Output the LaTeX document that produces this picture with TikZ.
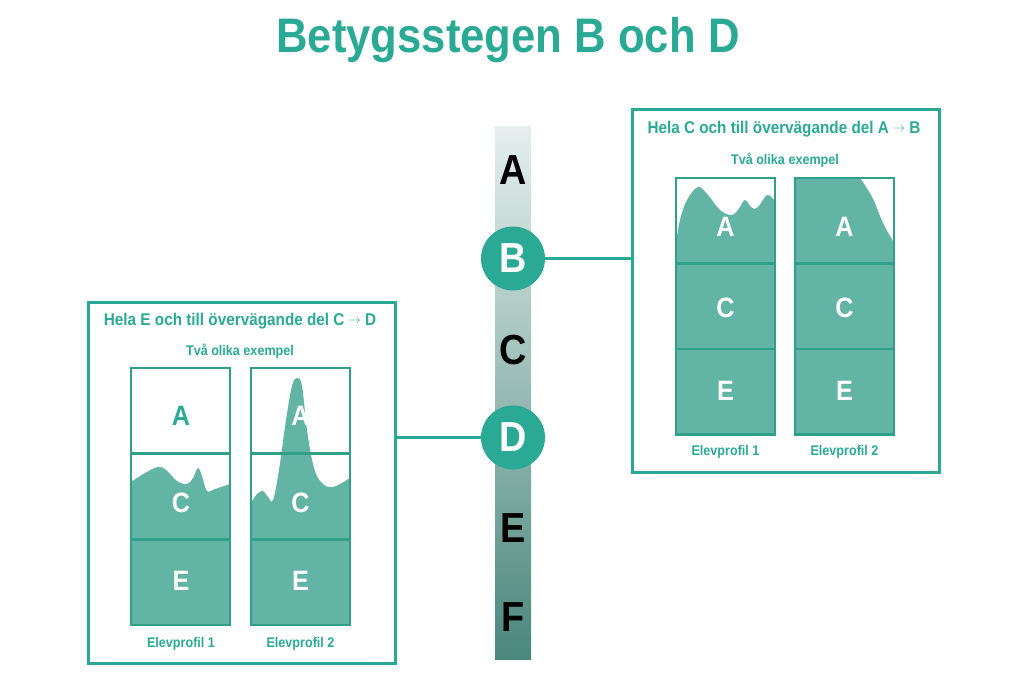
\documentclass[tikz,border=0pt]{standalone}
\usepackage{fontspec}
\setmainfont{Liberation Sans}[FakeStretch=0.9]
\definecolor{gradeteal}{HTML}{2AAA94}
\definecolor{profilefill}{HTML}{62B4A5}
\definecolor{cellline}{HTML}{31A08B}
\definecolor{bartop}{HTML}{E6EFED}
\definecolor{barbottom}{HTML}{4A877C}
\newcommand{\gradearrow}{\raisebox{1.5pt}{$\scriptstyle\rightarrow$}}
\tikzset{
  gradeletter/.style={font=\fontsize{42}{42}\selectfont\bfseries, text=black, anchor=base, inner sep=0pt},
  gradecircle/.style={circle, fill=gradeteal, minimum size=64pt, inner sep=0pt, text=white,
    font=\fontsize{42}{42}\selectfont\bfseries},
  examplebox/.style={draw=gradeteal, line width=3pt, minimum width=307pt},
  connector/.style={draw=gradeteal, line width=3pt},
  cellbox/.style={draw=cellline, line width=2.5pt},
  cellletter/.style={font=\fontsize{28}{28}\selectfont\bfseries, text=white},
  boxtitle/.style={font=\fontsize{17}{17}\selectfont\bfseries, text=gradeteal},
  subtitle/.style={font=\fontsize{14}{14}\selectfont\bfseries, text=gradeteal},
  profilename/.style={font=\fontsize{14}{14}\selectfont\bfseries, text=gradeteal}
}
\begin{document}
\begin{tikzpicture}[x=1pt, y=-1pt]
\useasboundingbox (0,0) rectangle (1024,696);

% Title
\node[font=\fontsize{48.5}{48.5}\selectfont\bfseries, text=gradeteal, anchor=base] (title) at (508,52) {Betygsstegen B och D};

% Grade scale
\shade[top color=bartop, bottom color=barbottom] (495,126) rectangle (531,659);
\node[gradeletter] (gradeA) at (513,184) {A};
\node[gradeletter] (gradeC) at (513,364) {C};
\node[gradeletter] (gradeE) at (513,542) {E};
\node[gradeletter] (gradeF) at (513,631) {F};
\node[gradecircle] (gradeB) at (513,258.5) {B};
\node[gradecircle] (gradeD) at (513,437.5) {D};

% Example box for B
\node[examplebox, minimum height=363pt] (rbox) at (785.5,290.5) {};
\node[boxtitle] (rtitle) at (784,129) {Hela C och till övervägande del A \gradearrow{} B};
\node[subtitle] (rsub) at (785,160) {Två olika exempel};
\fill[profilefill] plot[smooth, tension=0.6] coordinates {(676,243) (680,220) (687,200) (698,187)
  (708,195) (720,210) (732,215) (740,207) (745,200) (752,208) (758,207) (767,195) (774,200)}
  -- (774,435) -- (676,435) -- cycle;
\fill[profilefill] (795,435) -- (795,178) -- (860,178)
  -- plot[smooth, tension=0.6] coordinates {(860,178) (868,190) (874,201) (883,223) (894,243)}
  -- (894,435) -- cycle;
\foreach \x in {676,795} {
  \foreach \t in {178,263.5,349} \draw[cellbox] (\x,\t) rectangle ++(99,85.5);
}
\foreach \x/\i in {725.5/1,844.5/2} {
  \node[cellletter] (rA\i) at (\x,227) {A};
  \node[cellletter] (rC\i) at (\x,308) {C};
  \node[cellletter] (rE\i) at (\x,391) {E};
  \node[profilename] (rname\i) at (\x,452) {Elevprofil \i};
}

% Example box for D
\node[examplebox, minimum height=361pt] (lbox) at (241.5,482.5) {};
\node[boxtitle] (ltitle) at (240,321) {Hela E och till övervägande del C \gradearrow{} D};
\node[subtitle] (lsub) at (240,351) {Två olika exempel};
\fill[profilefill] plot[smooth, tension=0.6] coordinates {(131,482) (145,473) (158,467) (166,470)
  (177,481) (187,484) (193,478) (198,468) (202,476) (207,491) (215,489) (230,484)}
  -- (230,625) -- (131,625) -- cycle;
\fill[profilefill] plot[smooth, tension=0.6] coordinates {(251,503) (257,494) (263,491) (268,497)
  (273,500) (279,470) (286,420) (292,386) (297,378) (302,386) (307,430) (314,468) (322,483)
  (333,487) (350,478)} -- (350,625) -- (251,625) -- cycle;
\foreach \x in {131,251} {
  \foreach \t in {368,454,539.5} \draw[cellbox] (\x,\t) rectangle ++(99,85.5);
}
\node[cellletter, text=gradeteal] (lA1) at (181,416) {A};
\node[cellletter] (lA2) at (300.5,416) {A};
\foreach \x/\i in {181/1,300.5/2} {
  \node[cellletter] (lC\i) at (\x,503) {C};
  \node[cellletter] (lE\i) at (\x,581) {E};
  \node[profilename] (lname\i) at (\x,644) {Elevprofil \i};
}

% Connectors
\draw[connector] (gradeB) -- (gradeB -| rbox.west);
\draw[connector] (lbox.east |- gradeD) -- (gradeD);

\end{tikzpicture}
\end{document}
